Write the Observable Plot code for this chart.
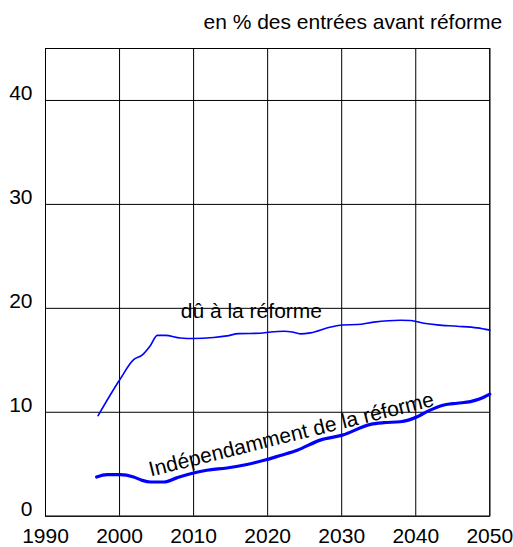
<!DOCTYPE html>
<html>
<head>
<meta charset="utf-8">
<script src="https://cdn.jsdelivr.net/npm/d3@7"></script>
<script src="https://cdn.jsdelivr.net/npm/@observablehq/plot@0.6"></script>
<style>
  html, body { margin: 0; padding: 0; background: #fff; }
  #chart svg { display: block; }
</style>
</head>
<body>
<div id="chart"></div>
<script>
// Title / unit
const unitLabel = "en % des entrées avant réforme";

// Axis ticks
const xTicks = [1990, 2000, 2010, 2020, 2030, 2040, 2050];
const yTicks = [0, 10, 20, 30, 40];

// Series "dû à la réforme"
const reformYears = [1997.1, 2000, 2001.9, 2003.05, 2004.1, 2005.1, 2006.2, 2008.2, 2010, 2012.7, 2014.5, 2016.1, 2019, 2020.4, 2022.2, 2023.3, 2024.4, 2025.8, 2028.5, 2030.1, 2032.1, 2034.3, 2037.9, 2039.3, 2041.1, 2042.9, 2045.6, 2048.3, 2050];
const reformValues = [9.67, 13.1, 15.06, 15.5, 16.35, 17.4, 17.4, 17.15, 17.1, 17.2, 17.35, 17.57, 17.6, 17.73, 17.8, 17.73, 17.54, 17.64, 18.2, 18.4, 18.44, 18.67, 18.86, 18.83, 18.57, 18.41, 18.28, 18.12, 17.9];

// Series "Indépendamment de la réforme"
const indepYears = [1996.9, 1998.3, 2000.1, 2001.9, 2003.05, 2004.2, 2006, 2007.8, 2010, 2011.8, 2014.5, 2017.2, 2019.9, 2021.7, 2024, 2027.1, 2030.1, 2033.9, 2035.7, 2037.9, 2040.2, 2041.5, 2043.8, 2045.6, 2047.4, 2048.7, 2050];
const indepValues = [3.77, 4.0, 4.0, 3.77, 3.45, 3.29, 3.29, 3.71, 4.16, 4.42, 4.64, 4.97, 5.45, 5.84, 6.35, 7.32, 7.8, 8.84, 9.0, 9.09, 9.57, 10.06, 10.7, 10.87, 11.03, 11.29, 11.74];

// Series labels (anchor positions in data units)
const labelTexts = ["dû à la réforme", "Indépendamment de la réforme"];
const labelX = [2017.8, 2023.2];
const labelY = [19.7, 7.85];
const labelRotate = [0, -14];

const reform = reformYears.map((x, i) => ({x, y: reformValues[i]}));
const indep = indepYears.map((x, i) => ({x, y: indepValues[i]}));
const labels = labelTexts.map((t, i) => ({t, x: labelX[i], y: labelY[i], r: labelRotate[i]}));

const font = "Liberation Sans, Arial, Helvetica, sans-serif";
const fs = 21;

const chart = Plot.plot({
  width: 513,
  height: 547,
  marginLeft: 45,
  marginRight: 23.7,
  marginTop: 48,
  marginBottom: 31.3,
  style: {fontFamily: font, fontSize: fs + "px", color: "#000", background: "#fff", overflow: "visible"},
  x: {domain: [1990, 2050]},
  y: {domain: [0, 45]},
  marks: [
    Plot.gridX(xTicks, {stroke: "#000", strokeOpacity: 1, strokeWidth: 1}),
    Plot.gridY(yTicks, {stroke: "#000", strokeOpacity: 1, strokeWidth: 1}),
    Plot.frame({stroke: "#000", strokeWidth: 1}),
    Plot.axisX({ticks: xTicks, tickSize: 0, tickPadding: 12, tickFormat: d => String(d), fontSize: fs, label: null}),
    Plot.axisY({ticks: yTicks, tickSize: 0, tickPadding: 13, dy: -7, fontSize: fs, label: null}),
    Plot.line(reform, {x: "x", y: "y", stroke: "#0000ff", strokeWidth: 1.6, curve: "monotone-x"}),
    Plot.line(indep, {x: "x", y: "y", stroke: "#0000ff", strokeWidth: 3.2, curve: "monotone-x"}),
    Plot.text(labels, {x: "x", y: "y", text: "t", rotate: "r", fontSize: fs, fill: "#000", textAnchor: "middle", lineAnchor: "middle"}),
    Plot.text([unitLabel], {frameAnchor: "top-right", text: d => d, textAnchor: "end", lineAnchor: "middle", dx: 12.5, dy: -26, fontSize: fs, fill: "#000"})
  ]
});

document.getElementById("chart").appendChild(chart);
</script>
</body>
</html>
